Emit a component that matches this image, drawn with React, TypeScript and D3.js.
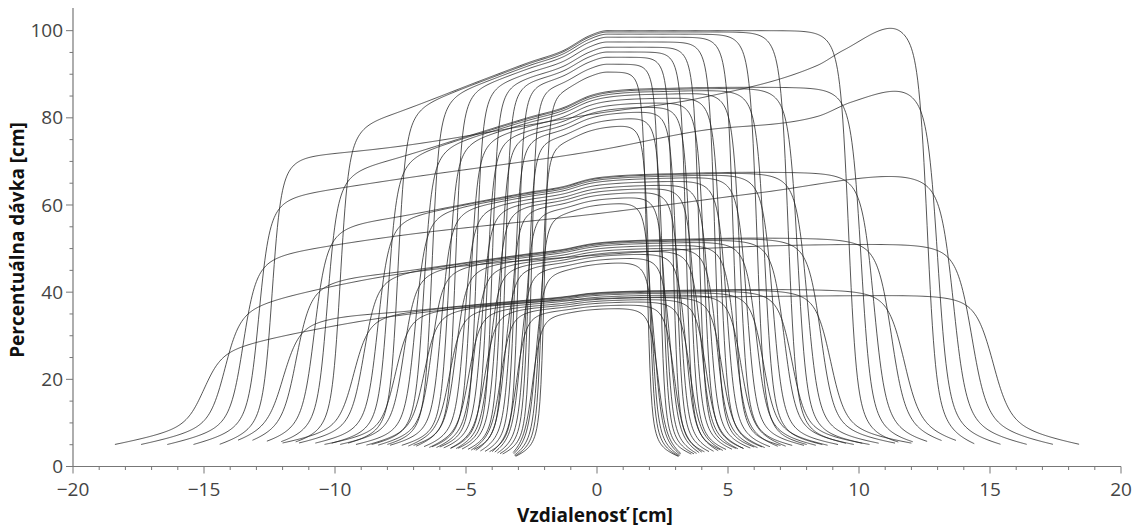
import React from "react";
import * as d3 from "d3";

// ---- data ----
// envelope knots (cm) and plateau level per depth family
const X_KNOTS = [-15, -12, -9.5, -7.5, -4.5, -2.6, -1.3, -0.3, 0.4, 3, 6, 10, 15];
const ENVELOPE_D1 = [66, 71, 77.5, 81.5, 88.4, 92.7, 95.4, 98.8, 100, 100, 100, 100, 100];
const ENVELOPE_D2 = [59.2, 63.3, 67.8, 71, 76.6, 80.1, 82.3, 85, 86, 86.8, 87, 86.8, 86.5];
const ENVELOPE_D3 = [50.3, 52.7, 55.5, 57.4, 60.8, 62.9, 64.2, 65.9, 66.5, 67.2, 67.5, 67.3, 67];
const ENVELOPE_D4 = [39.3, 41.2, 43.3, 44.7, 47.2, 48.8, 49.8, 51, 51.5, 52.1, 52.4, 52.2, 52];
const ENVELOPE_D5 = [32, 33.2, 34.6, 35.5, 37.2, 38.2, 38.9, 39.7, 40, 40.4, 40.6, 40.5, 40.3];
const ENVELOPES = [ENVELOPE_D1, ENVELOPE_D2, ENVELOPE_D3, ENVELOPE_D4, ENVELOPE_D5];

// widest field: its own plateau per depth
const WIDE_X_D1 = [-12.4, -7.5, 0, 3.9, 8.4, 9.4, 11.6, 12.6];
const WIDE_V_D1 = [70.5, 73.5, 81, 84.5, 92, 95.5, 101.5, 101.5];
const WIDE_X_D2 = [-12.9, -7.5, 0, 3.9, 8.4, 9.7, 12.0, 13.0];
const WIDE_V_D2 = [61, 66, 72.5, 77, 80.3, 83.6, 87, 87];
const WIDE_X_D3 = [-13.5, -7.5, 0, 6.2, 11.8, 13.6];
const WIDE_V_D3 = [47.5, 53, 58, 62.8, 66.8, 66.5];
const WIDE_X_D4 = [-14.2, -7.5, 0, 6, 13, 14.3];
const WIDE_V_D4 = [36, 44.2, 48.5, 50.5, 51, 51];
const WIDE_X_D5 = [-15, -7.5, 0, 6, 14, 15.1];
const WIDE_V_D5 = [26.5, 34.7, 38.5, 39, 39.3, 39.3];
const WIDE_X = [WIDE_X_D1, WIDE_X_D2, WIDE_X_D3, WIDE_X_D4, WIDE_X_D5];
const WIDE_V = [WIDE_V_D1, WIDE_V_D2, WIDE_V_D3, WIDE_V_D4, WIDE_V_D5];

// fields (50% edges at the shallowest depth, cm)
const FIELD_LEFT = [-2.0, -2.5, -3.0, -3.5, -4.0, -4.6, -5.4, -6.3, -7.6, -9.8, -12.4];
const FIELD_RIGHT = [1.9, 2.4, 2.9, 3.4, 3.9, 4.5, 5.2, 6.1, 7.3, 9.6, 12.6];
const FIELD_OF = [0.905, 0.923, 0.939, 0.951, 0.962, 0.974, 0.985, 0.992, 0.997, 1.0, 1.0];
const SCAN_TOP = [3.1, 3.6, 4.1, 4.7, 5.3, 6.0, 7.0, 8.0, 9.5, 11.5, 14.4];
const SCAN_BOTTOM = [3.2, 4.0, 4.8, 5.6, 6.4, 7.2, 8.8, 10.4, 12.0, 13.7, 18.4];
const FIELD_PEN = [0.6, 0.65, 0.7, 0.75, 0.8, 0.85, 0.9, 1.0, 1.1, 1.2, 1.3];
const TAIL_EDGE = [5.5, 6, 6.5, 7, 7.3, 7.5, 8, 8, 8.5, 8.5, 9];
const TAIL_END = [2.3, 2.8, 3.3, 3.8, 4.1, 4.4, 4.8, 5, 5.3, 5.5, 5];

// depth families
const DIVERGENCE = [1, 1.05, 1.1, 1.17, 1.22];
const PEN_SHARP = [0.12, 0.14, 0.17, 0.2, 0.23];
const PEN_SOFT = [0.3, 0.35, 0.42, 0.5, 0.58];

// axes
const X_TICKS = [-20, -15, -10, -5, 0, 5, 10, 15, 20];
const Y_TICKS = [0, 20, 40, 60, 80, 100];

function monotone(xs: number[], ys: number[]) {
  const n = xs.length;
  const d: number[] = [];
  for (let i = 0; i < n - 1; i++) d.push((ys[i + 1] - ys[i]) / (xs[i + 1] - xs[i]));
  const m: number[] = new Array(n).fill(0);
  m[0] = d[0];
  m[n - 1] = d[n - 2];
  for (let i = 1; i < n - 1; i++) {
    m[i] = d[i - 1] * d[i] <= 0 ? 0 : (d[i - 1] + d[i]) / 2;
  }
  for (let i = 0; i < n - 1; i++) {
    if (d[i] === 0) { m[i] = 0; m[i + 1] = 0; continue; }
    const a = m[i] / d[i], b = m[i + 1] / d[i];
    const s = a * a + b * b;
    if (s > 9) { const t = 3 / Math.sqrt(s); m[i] = t * a * d[i]; m[i + 1] = t * b * d[i]; }
  }
  return (x: number) => {
    if (x <= xs[0]) return ys[0];
    if (x >= xs[n - 1]) return ys[n - 1];
    const i = Math.min(n - 2, d3.bisectRight(xs, x) - 1);
    const h = xs[i + 1] - xs[i];
    const t = (x - xs[i]) / h;
    const t2 = t * t, t3 = t2 * t;
    return (2 * t3 - 3 * t2 + 1) * ys[i] + (t3 - 2 * t2 + t) * h * m[i] +
      (-2 * t3 + 3 * t2) * ys[i + 1] + (t3 - t2) * h * m[i + 1];
  };
}

const sig = (v: number) => 1 / (1 + Math.exp(-v));

function buildCurves() {
  const curves: [number, number][][] = [];
  const last = FIELD_LEFT.length - 1;
  const nK = DIVERGENCE.length;
  for (let k = 0; k < nK; k++) {
    const env = monotone(X_KNOTS, ENVELOPES[k]);
    const wide = monotone(WIDE_X[k], WIDE_V[k]);
    const u = k / (nK - 1);
    for (let f = 0; f < FIELD_LEFT.length; f++) {
      const L = f === last ? WIDE_X[k][0] : FIELD_LEFT[f] * DIVERGENCE[k];
      const R = f === last ? WIDE_X[k][WIDE_X[k].length - 1] : FIELD_RIGHT[f] * DIVERGENCE[k];
      const scan = SCAN_TOP[f] + (SCAN_BOTTOM[f] - SCAN_TOP[f]) * u;
      const S0 = -scan;
      const S1 = scan;
      const ps = PEN_SHARP[k] * FIELD_PEN[f];
      const pw = PEN_SOFT[k] * FIELD_PEN[f];
      const edge = (dd: number) => 0.75 * sig(dd / ps) + 0.25 * sig(dd / pw);
      const pts: [number, number][] = [];
      const n = Math.ceil((S1 - S0) / 0.04);
      for (let i = 0; i <= n; i++) {
        const x = S0 + ((S1 - S0) * i) / n;
        const plateau = f === last ? wide(x) : env(x) * FIELD_OF[f];
        const S = edge(x - L) * edge(R - x);
        let frac = 0;
        if (x < L) frac = (L - x) / (L - S0);
        else if (x > R) frac = (x - R) / (S1 - R);
        const tail = TAIL_EDGE[f] + (TAIL_END[f] - TAIL_EDGE[f]) * Math.min(1, frac);
        pts.push([x, plateau * S + tail * (1 - S)]);
      }
      curves.push(pts);
    }
  }
  return curves;
}

export default function App() {
  const W = 1146, H = 529;
  const x = d3.scaleLinear().domain([-20, 20]).range([73, 1121]);
  const y = d3.scaleLinear().domain([0, 105.2]).range([466.5, 8]);
  const line = d3.line<[number, number]>().x((d) => x(d[0])).y((d) => y(d[1]));
  const curves = buildCurves();
  const xMinor = d3.range(-20, 21, 1);
  const yMinor = d3.range(0, 105, 5);
  const axisColor = "#777";
  const labelColor = "#444";
  const font = "'Open Sans', 'Noto Sans', sans-serif";
  return (
    <svg width={W} height={H} style={{ position: "absolute", left: 0, top: 0, background: "#fff" }}>
      <g>
        {curves.map((c, i) => (
          <path key={i} d={line(c) || ""} fill="none" stroke="#1e1e1e" strokeWidth={0.75} />
        ))}
      </g>
      <g>
        <line x1={x(-20)} x2={x(20)} y1={y(0)} y2={y(0)} stroke={axisColor} strokeWidth={1.2} />
        {xMinor.map((v) => (
          <line key={"xm" + v} x1={x(v)} x2={x(v)} y1={y(0)} y2={y(0) + (v % 5 === 0 ? 7 : 3.5)} stroke={axisColor} strokeWidth={1} />
        ))}
        {X_TICKS.map((v) => (
          <text key={"xt" + v} x={x(v)} y={496} textAnchor="middle" fontFamily={font} fontSize={19} fill={labelColor}>
            {d3.format("")(v)}
          </text>
        ))}
        <line x1={x(-20)} x2={x(-20)} y1={y(0)} y2={y(105.2)} stroke={axisColor} strokeWidth={1.2} />
        {yMinor.map((v) => (
          <line key={"ym" + v} x1={x(-20)} x2={x(-20) - (v % 20 === 0 ? 7 : 3.5)} y1={y(v)} y2={y(v)} stroke={axisColor} strokeWidth={1} />
        ))}
        {Y_TICKS.map((v) => (
          <text key={"yt" + v} x={63} y={y(v)} dy="0.35em" textAnchor="end" fontFamily={font} fontSize={19} fill={labelColor}>
            {v}
          </text>
        ))}
        <text x={595} y={522} textAnchor="middle" fontFamily={font} fontSize={19} fontWeight="bold" fill="#111">
          Vzdialenosť [cm]
        </text>
        <text transform={`translate(24, 240) rotate(-90)`} textAnchor="middle" fontFamily={font} fontSize={19} fontWeight="bold" fill="#111">
          Percentuálna dávka [cm]
        </text>
      </g>
    </svg>
  );
}
